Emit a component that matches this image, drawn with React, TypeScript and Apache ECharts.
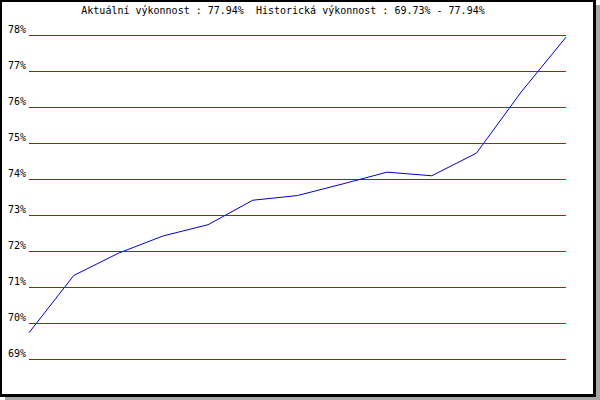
import React, { useEffect, useRef } from "react";
import * as echarts from "echarts";

const categories = ["1", "2", "3", "4", "5", "6", "7", "8", "9", "10", "11", "12", "13"];
const performance = [69.73, 71.32, 71.94, 72.42, 72.73, 73.41, 73.54, 73.86, 74.19, 74.09, 74.72, 76.42, 77.94];
const titleText = "Aktuální výkonnost : 77.94%  Historická výkonnost : 69.73% - 77.94%";
const yMin = 69;
const yMax = 78;

export default function App() {
  const ref = useRef<HTMLDivElement>(null);
  useEffect(() => {
    if (!ref.current) return;
    const chart = echarts.init(ref.current, null, { renderer: "svg" });
    const font = "DejaVu Sans Mono";
    chart.setOption({
      animation: false,
      backgroundColor: "#ffffff",
      graphic: [
        { type: "rect", z: -10, silent: true, shape: { x: 5, y: 5, width: 595, height: 395 }, style: { fill: "#a8a8a8" } },
        { type: "rect", z: -9, silent: true, shape: { x: 0, y: 0, width: 596, height: 397 }, style: { fill: "#000000" } },
        { type: "rect", z: -8, silent: true, shape: { x: 2, y: 2, width: 591, height: 392 }, style: { fill: "#ffffff" } },
      ],
      title: {
        text: titleText,
        left: 283,
        top: 5,
        textAlign: "center",
        padding: 0,
        textStyle: { fontFamily: font, fontSize: 10, fontWeight: "normal", color: "#000000" },
      },
      grid: { left: 29, right: 34, top: 35, bottom: 41, containLabel: false },
      xAxis: {
        type: "category",
        data: categories,
        boundaryGap: false,
        show: false,
      },
      yAxis: {
        type: "value",
        min: yMin,
        max: yMax,
        interval: 1,
        axisLine: { show: false },
        axisTick: { show: false },
        splitLine: { show: true, lineStyle: { color: "#e00000", width: 1 } },
        axisLabel: {
          formatter: (v: number) => v + "%",
          fontFamily: font,
          fontSize: 10,
          color: "#000000",
          margin: 3,
          verticalAlign: "bottom",
          lineHeight: 11,
        },
      },
      series: [
        {
          type: "line",
          data: performance,
          symbol: "none",
          lineStyle: { color: "#0000cc", width: 1 },
        },
      ],
    });
    return () => chart.dispose();
  }, []);
  return <div ref={ref} style={{ position: "fixed", left: 0, top: 0, width: 600, height: 400 }} />;
}
